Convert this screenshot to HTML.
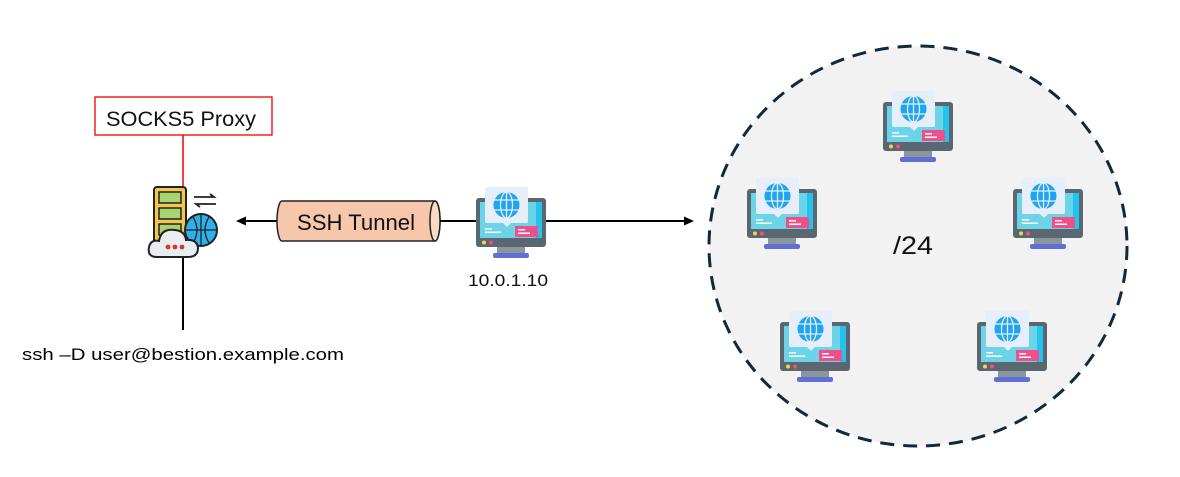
<!DOCTYPE html>
<html><head><meta charset="utf-8"><style>
body{margin:0;background:#fff;width:1180px;height:472px;overflow:hidden;font-family:"Liberation Sans","Noto Sans CJK KR",sans-serif}
</style></head><body>
<svg width="1180" height="472" xmlns="http://www.w3.org/2000/svg" font-family="Liberation Sans, Noto Sans CJK KR, sans-serif">
<defs>
<g id="mon">
<rect x="0" y="0" width="70" height="49" rx="3" fill="#5b6770"/>
<rect x="4" y="4" width="62" height="36" fill="#6dd3e6"/>
<rect x="60" y="4" width="6" height="36" fill="#22c3ef"/>
<rect x="21" y="49" width="28" height="7" fill="#8a959c"/>
<rect x="17" y="55" width="36" height="5" rx="2" fill="#5f6fd6"/>
<circle cx="8" cy="44.5" r="2" fill="#f7d34a"/>
<circle cx="15" cy="44.5" r="2" fill="#f0507a"/>
<rect x="9" y="-11" width="43" height="36" rx="2" fill="#e6eef9"/>
<path d="M27 25 L31 29 L35 25Z" fill="#e6eef9"/>
<circle cx="30.5" cy="7" r="13" fill="#1ea5f0"/>
<g stroke="#e6eef9" stroke-width="1.3" fill="none">
<ellipse cx="30.5" cy="7" rx="6" ry="13"/><line x1="30.5" y1="-6" x2="30.5" y2="20"/>
<line x1="18" y1="2" x2="43" y2="2"/><line x1="18" y1="12" x2="43" y2="12"/></g>
<rect x="39" y="28" width="23" height="11" fill="#f0508a"/>
<rect x="42" y="31" width="7" height="1.5" fill="#fff"/><rect x="42" y="34.5" width="12" height="1.5" fill="#fff"/>
<rect x="9" y="30" width="7" height="1.5" fill="#fff"/><rect x="9" y="33.5" width="16" height="1.5" fill="#fff"/>
</g>
</defs>
<ellipse cx="918" cy="246" rx="209" ry="200" fill="#f2f2f2" stroke="#0f2a3a" stroke-width="3" stroke-dasharray="14,9"/>
<rect x="95" y="97" width="177" height="38" fill="#fff" stroke="#e00" stroke-width="1.3"/>
<text x="106" y="126" font-size="21" fill="#111" textLength="150" lengthAdjust="spacingAndGlyphs">SOCKS5 Proxy</text>
<line x1="183" y1="135" x2="183" y2="186" stroke="#e00" stroke-width="1.5"/>
<line x1="183" y1="258" x2="183" y2="330" stroke="#000" stroke-width="2"/>
<text x="22" y="360" font-size="17" fill="#000" textLength="322" lengthAdjust="spacingAndGlyphs">ssh –D user@bestion.example.com</text>
<g>
<rect x="154" y="187" width="32" height="62" rx="3" fill="#f4c84f" stroke="#222" stroke-width="2"/>
<rect x="159" y="192" width="22" height="11" fill="#a8d46f" stroke="#222" stroke-width="1.5"/>
<rect x="159" y="208" width="22" height="11" fill="#a8d46f" stroke="#222" stroke-width="1.5"/>
<rect x="159" y="224" width="22" height="11" fill="#a8d46f" stroke="#222" stroke-width="1.5"/>
<circle cx="201" cy="230" r="16" fill="#2fb0e8" stroke="#222" stroke-width="2"/>
<path d="M185 230h32M201 214v32M193 217q8 13 0 26M209 217q-8 13 0 26" stroke="#222" stroke-width="1.3" fill="none"/>
<path d="M157 257 q-10 0 -8 -10 q2 -8 10 -6 q2 -13 16 -11 q10 1 11 10 q11 -1 12 8 q0 9 -10 9z" fill="#e8edf0" stroke="#222" stroke-width="2"/>
<circle cx="168" cy="247" r="2.4" fill="#d33"/><circle cx="175" cy="247" r="2.4" fill="#d33"/><circle cx="182" cy="247" r="2.4" fill="#d33"/>
<path d="M194 197h20l-4-3M216 204h-20l4 3" stroke="#222" stroke-width="1.8" fill="none"/>
</g>
<line x1="244" y1="221" x2="278" y2="221" stroke="#000" stroke-width="2"/>
<path d="M236 221 L246 216.5 L246 225.5Z" fill="#000"/>
<path d="M282 201 H435 A5 20 0 0 1 435 241 H282 A5 20 0 0 1 282 201Z" fill="#f6c7ab" stroke="#222" stroke-width="1.5"/>
<ellipse cx="435" cy="221" rx="5" ry="20" fill="#fbd9c6" stroke="#222" stroke-width="1.5"/>
<text x="297" y="230" font-size="22" fill="#111" textLength="118" lengthAdjust="spacingAndGlyphs">SSH Tunnel</text>
<line x1="440" y1="221" x2="477" y2="221" stroke="#000" stroke-width="2"/>
<line x1="546" y1="221" x2="685" y2="221" stroke="#000" stroke-width="2"/>
<path d="M694 221 L684 216.5 L684 225.5Z" fill="#000"/>
<use href="#mon" x="476" y="198"/>
<text x="468" y="286" font-size="17" fill="#111" textLength="80" lengthAdjust="spacingAndGlyphs">10.0.1.10</text>
<use href="#mon" x="883" y="102"/>
<use href="#mon" x="747" y="189"/>
<use href="#mon" x="1013" y="189"/>
<use href="#mon" x="780" y="322"/>
<use href="#mon" x="977" y="322"/>
<text x="893" y="254" font-size="25" fill="#111" textLength="40" lengthAdjust="spacingAndGlyphs">/24</text>
</svg>
</body></html>
